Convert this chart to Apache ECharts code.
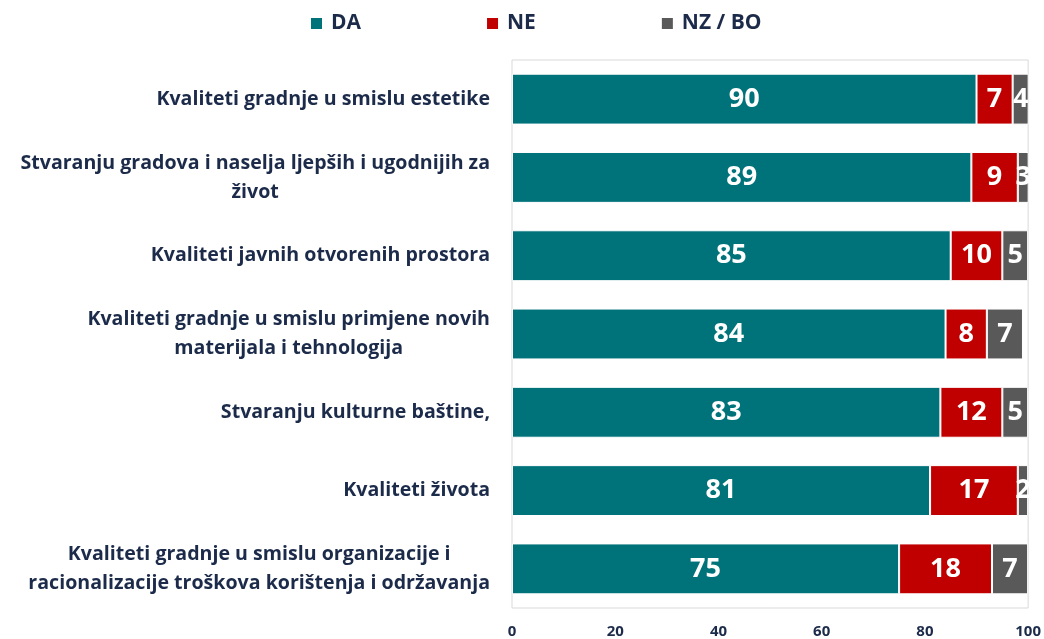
<!DOCTYPE html>
<html lang="hr">
<head>
<meta charset="UTF-8">
<title>Kvaliteta gradnje</title>
<script src="https://cdn.jsdelivr.net/npm/echarts@6/dist/echarts.min.js"></script>
</head>
<body style="margin:0">
<div id="main" style="width:1044px;height:639px;"></div>
<script>
// kategorije (odozgo prema dolje)
var categories = [
    'Kvaliteti gradnje u smislu estetike',
    'Stvaranju gradova i naselja ljepših i ugodnijih za\nživot',
    'Kvaliteti javnih otvorenih prostora',
    'Kvaliteti gradnje u smislu primjene novih\nmaterijala i tehnologija',
    'Stvaranju kulturne baštine,',
    'Kvaliteti života',
    'Kvaliteti gradnje u smislu organizacije i\nracionalizacije troškova korištenja i održavanja'
];
var da = [90, 89, 85, 84, 83, 81, 75];
var ne = [7, 9, 10, 8, 12, 17, 18];
var nzbo = [4, 3, 5, 7, 5, 2, 7];
var xTicks = [0, 20, 40, 60, 80, 100];

var navy = '#1c2b4a';
var font = '"Open Sans"';

function serie(name, data, color) {
    return {
        name: name,
        type: 'bar',
        stack: 'ukupno',
        barWidth: '65%',
        data: data,
        itemStyle: { color: color, borderColor: '#fff', borderWidth: 1 },
        label: {
            show: true,
            position: 'inside',
            color: '#fff',
            fontFamily: font,
            fontWeight: 'bold',
            fontSize: 27
        }
    };
}

var myChart = echarts.init(document.getElementById('main'));
var option = {
    animation: false,
    legend: {
        top: 8,
        left: 304,
        itemGap: 124,
        itemWidth: 13,
        itemHeight: 13,
        icon: 'rect',
        textStyle: { color: navy, fontFamily: font, fontWeight: 'bold', fontSize: 21, padding: [0, 0, 0, 3] },
        data: ['DA', 'NE', 'NZ / BO']
    },
    grid: {
        show: true,
        left: 512,
        right: 15,
        top: 60,
        bottom: 31,
        borderColor: '#d9d9d9',
        borderWidth: 1,
        containLabel: false
    },
    xAxis: {
        type: 'value',
        min: 0,
        max: 100,
        interval: 20,
        axisLine: { show: false },
        axisTick: { show: false },
        splitLine: { show: false },
        axisLabel: {
            margin: 16,
            color: navy,
            fontFamily: font,
            fontWeight: 'bold',
            fontSize: 15,
            formatter: function (v) { return xTicks.indexOf(v) >= 0 ? String(v) : ''; }
        }
    },
    yAxis: {
        type: 'category',
        inverse: true,
        data: categories,
        axisLine: { show: false },
        axisTick: { show: false },
        axisLabel: {
            margin: 22,
            align: 'right',
            formatter: function (v) {
                return v.split('\n').map(function (s) { return '{c|' + s + '}'; }).join('\n');
            },
            rich: {
                c: {
                    align: 'center',
                    color: navy,
                    fontFamily: font,
                    fontWeight: 'bold',
                    fontSize: 19.6,
                    lineHeight: 29
                }
            }
        }
    },
    series: [
        serie('DA', da, '#00737a'),
        serie('NE', ne, '#c00000'),
        serie('NZ / BO', nzbo, '#595959')
    ]
};
myChart.setOption(option);
</script>
</body>
</html>
